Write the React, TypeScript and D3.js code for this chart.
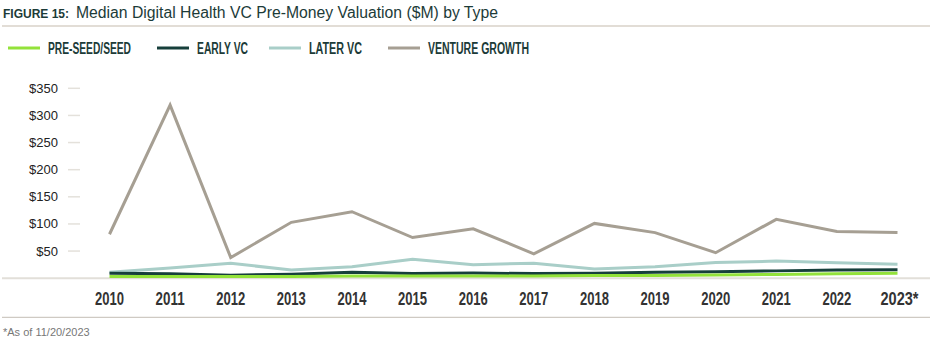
import React from "react";
import * as d3 from "d3";

const years = ["2010","2011","2012","2013","2014","2015","2016","2017","2018","2019","2020","2021","2022","2023*"];
const preSeedSeed = [3, 3, 3, 3, 4, 4, 4, 4, 5, 5, 6, 7, 8, 9];
const earlyVC = [9, 8, 5.5, 7.5, 11, 8.5, 9.5, 8.5, 9, 11, 12, 13.5, 15, 15.5];
const laterVC = [11, 19, 27.5, 15, 21, 35, 25, 27.5, 17, 21, 29, 31.5, 28.5, 25.5];
const ventureGrowth = [81, 319, 38, 103, 122.5, 75, 91, 45, 101, 84, 47, 108.5, 86, 84];
const yTicks = [50, 100, 150, 200, 250, 300, 350];

const seriesNames = ["PRE-SEED/SEED", "EARLY VC", "LATER VC", "VENTURE GROWTH"];
const seriesColors = ["#93e23a", "#163f3b", "#a9cec8", "#a69f93"];
const seriesValues = [preSeedSeed, earlyVC, laterVC, ventureGrowth];
const legendX = [8, 157, 269, 388];
const legendTextLen = [83, 51, 53, 101];

export default function App() {
  const W = 945, H = 350;
  const x = d3.scalePoint<string>().domain(years).range([109.5, 897.5]);
  const y = d3.scaleLinear().domain([0, 350]).range([278.2, 88.3]);
  const line = d3.line<number>().x((_, i) => x(years[i]) as number).y((d) => y(d));
  const drawOrder = [3, 2, 1, 0];

  return (
    <svg width={W} height={H} style={{ position: "absolute", left: 0, top: 0, background: "#fff" }}>
      <text x={3} y={18} fontFamily="Liberation Sans, Arial, sans-serif" fontWeight="bold" fontSize={12} fill="#1c3b38">FIGURE 15:</text>
      <text x={76} y={18} fontFamily="Liberation Sans, Arial, sans-serif" fontSize={16} fill="#1c3b38" textLength={422} lengthAdjust="spacingAndGlyphs">Median Digital Health VC Pre-Money Valuation ($M) by Type</text>
      <line x1={2} x2={930} y1={26} y2={26} stroke="#d8d2c9" strokeWidth={1.5} />

      {seriesNames.map((n, i) => (
        <g key={n}>
          <line x1={legendX[i]} x2={legendX[i] + 32} y1={48} y2={48} stroke={seriesColors[i]} strokeWidth={3} />
          <text x={legendX[i] + 40} y={54} fontFamily="Liberation Sans Narrow, Arial Narrow, sans-serif" fontWeight="bold" fontSize={16} fill="#1c3b38" textLength={legendTextLen[i]} lengthAdjust="spacingAndGlyphs">{n}</text>
        </g>
      ))}

      {yTicks.map((t) => (
        <g key={t}>
          <line x1={68} x2={80} y1={y(t)} y2={y(t)} stroke="#e4e1db" strokeWidth={1.5} />
          <text x={58} y={y(t)} dy="0.35em" textAnchor="end" fontFamily="Liberation Sans, Arial, sans-serif" fontSize={13} fill="#222">{"$" + t}</text>
        </g>
      ))}

      <line x1={2} x2={930} y1={y(0)} y2={y(0)} stroke="#e2dfd9" strokeWidth={2} />

      {drawOrder.map((i) => (
        <path key={i} d={line(seriesValues[i]) || ""} fill="none" stroke={seriesColors[i]} strokeWidth={3} strokeLinejoin="miter" />
      ))}

      {years.map((yr) => {
        const star = yr.endsWith("*");
        return (
          <text key={yr} x={(x(yr) as number) + (star ? 2 : 0)} y={304.5} textAnchor="middle" fontFamily="Liberation Sans Narrow, Arial Narrow, sans-serif" fontWeight="bold" fontSize={17.5} fill="#333" textLength={star ? 38 : 29} lengthAdjust="spacingAndGlyphs">{yr}</text>
        );
      })}

      <line x1={2} x2={930} y1={317.3} y2={317.3} stroke="#cfcac3" strokeWidth={1.2} />
      <text x={3} y={336} fontFamily="Liberation Sans, Arial, sans-serif" fontSize={11} fill="#777">*As of 11/20/2023</text>
    </svg>
  );
}
